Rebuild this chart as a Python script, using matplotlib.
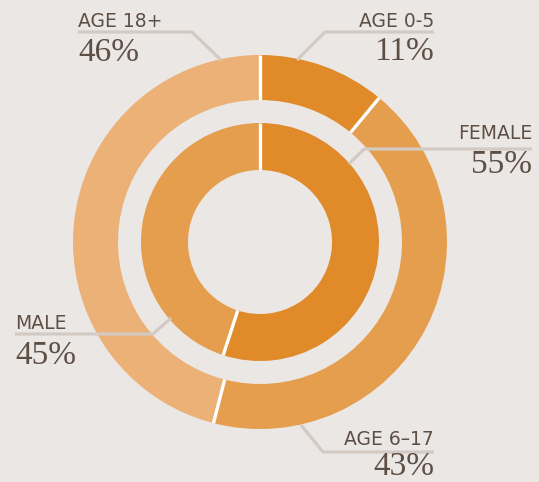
import numpy as np
import matplotlib.pyplot as plt

# dane
age_labels = ['AGE 0-5', 'AGE 6\u201317', 'AGE 18+']
age_values = [11, 43, 46]
sex_labels = ['FEMALE', 'MALE']
sex_values = [55, 45]

age_colors = ['#E08A2A', '#E59E4E', '#ECB176']
sex_colors = ['#E08A2A', '#E59E4E']

bg = '#EBE7E4'
txt = '#5E4F46'
linia = '#D3CAC3'

W, H = 539, 482
fig = plt.figure(figsize=(W / 100, H / 100), dpi=100)
fig.patch.set_facecolor(bg)
ax = fig.add_axes([0, 0, 1, 1])
ax.set_facecolor(bg)

cx, cy = 260, H - 242  # srodek w pikselach


def pierscien(vals, cols, r, w):
    ax.pie(vals, radius=r, center=(cx, cy), startangle=90, counterclock=False,
           colors=cols, frame=True,
           wedgeprops=dict(width=w, edgecolor='none', linewidth=0))
    # biale separatory miedzy wycinkami
    kum = np.cumsum([0] + list(vals)) / np.sum(vals)
    for k in kum[:-1]:
        a = np.deg2rad(90 - 360 * k)
        ax.plot([cx + (r - w) * np.cos(a), cx + r * np.cos(a)],
                [cy + (r - w) * np.sin(a), cy + r * np.sin(a)],
                color='white', lw=2.4, solid_capstyle='butt', zorder=3)


pierscien(age_values, age_colors, 187, 45)
pierscien(sex_values, sex_colors, 119, 47)

ax.set_xlim(0, W)
ax.set_ylim(0, H)
ax.set_aspect('equal')
ax.axis('off')


def etykieta(nazwa, proc, x_txt, y_txt, y_lin, y_pct, x_kol, x_end, y_end, ha):
    # linia odniesienia: pozioma + skos do pierscienia (wsp. obrazka)
    ax.plot([x_txt, x_kol, x_end], [H - y_lin, H - y_lin, H - y_end],
            color=linia, lw=2.3, solid_capstyle='butt', zorder=5)
    ax.text(x_txt, H - y_txt, nazwa, ha=ha, va='baseline', fontsize=13.5,
            family='DejaVu Sans', color=txt, zorder=6)
    ax.text(x_txt, H - y_pct, proc, ha=ha, va='baseline', fontsize=24,
            family='Liberation Serif', color=txt, zorder=6)


etykieta(age_labels[2], f'{age_values[2]}%', 78, 27, 32, 61, 192, 221, 60, 'left')
etykieta(age_labels[0], f'{age_values[0]}%', 434, 27, 32, 60, 325, 297, 60, 'right')
etykieta(sex_labels[0], f'{sex_values[0]}%', 532, 139, 149, 173, 364, 349, 164, 'right')
etykieta(sex_labels[1], f'{sex_values[1]}%', 15, 329, 334, 364, 153, 171, 318, 'left')
etykieta(age_labels[1], f'{age_values[1]}%', 434, 445, 452, 475, 323, 301, 425, 'right')

fig.savefig('out.png', dpi=100, facecolor=bg)
